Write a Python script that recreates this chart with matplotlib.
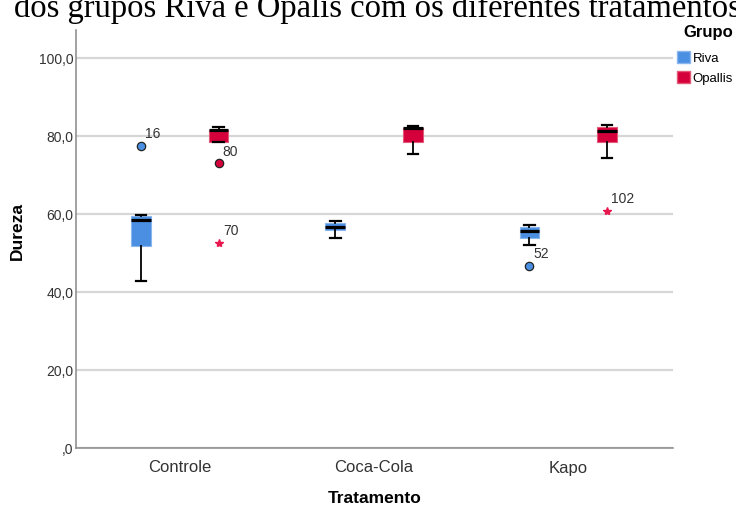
import matplotlib.pyplot as plt
from matplotlib.patches import Patch

# dureza por tratamento e grupo (resumo dos boxplots)
tratamentos = ['Controle', 'Coca-Cola', 'Kapo']
grupos = ['Riva', 'Opallis']

riva_whislo = [42.8, 53.9, 52.0]
riva_q1 = [51.8, 56.0, 53.8]
riva_med = [58.5, 56.8, 55.7]
riva_q3 = [59.5, 57.6, 56.6]
riva_whishi = [59.8, 58.3, 57.2]

opallis_whislo = [78.4, 75.3, 74.5]
opallis_q1 = [78.4, 78.5, 78.5]
opallis_med = [81.5, 82.0, 81.3]
opallis_q3 = [81.6, 82.1, 82.2]
opallis_whishi = [82.4, 82.6, 82.8]

# casos atipicos (circulo) e extremos (estrela)
out_trat = [0, 0, 0, 2, 2]
out_grupo = ['Riva', 'Opallis', 'Opallis', 'Riva', 'Opallis']
out_valor = [77.5, 73.0, 52.5, 46.7, 60.8]
out_caso = ['16', '80', '70', '52', '102']
out_extremo = [False, False, True, False, True]

cores = {'Riva': '#4a8fe2', 'Opallis': '#d5003b'}
bordas = {'Riva': '#8ab6ee', 'Opallis': '#e25a78'}
desloc = {'Riva': -0.2, 'Opallis': 0.2}

fig = plt.figure(figsize=(7.36, 5.08), dpi=100)
ax = fig.add_axes([76 / 736, 1 - 448 / 508, 597 / 736, 418 / 508])

series = {
    'Riva': (riva_whislo, riva_q1, riva_med, riva_q3, riva_whishi),
    'Opallis': (opallis_whislo, opallis_q1, opallis_med, opallis_q3, opallis_whishi),
}

for g in grupos:
    lo, q1, med, q3, hi = series[g]
    stats = []
    for i in range(len(tratamentos)):
        stats.append({'whislo': lo[i], 'q1': q1[i], 'med': med[i],
                      'q3': q3[i], 'whishi': hi[i], 'fliers': []})
    pos = [i + desloc[g] for i in range(len(tratamentos))]
    ax.bxp(stats, positions=pos, widths=0.1, capwidths=0.055,
           patch_artist=True, showfliers=False, manage_ticks=False,
           boxprops=dict(facecolor=cores[g], edgecolor=bordas[g], linewidth=0.8),
           medianprops=dict(color='black', linewidth=2.3, solid_capstyle='butt'),
           whiskerprops=dict(color='black', linewidth=1.3),
           capprops=dict(color='black', linewidth=1.6), zorder=3)

for t, g, v, caso, ext in zip(out_trat, out_grupo, out_valor, out_caso, out_extremo):
    x = t + desloc[g]
    if ext:
        ax.plot(x, v, marker='*', color='#e8174d', markersize=6, zorder=4)
    else:
        ax.plot(x, v, marker='o', markerfacecolor=cores[g], markeredgecolor='#222222',
                markeredgewidth=0.9, markersize=6, zorder=4)
    ax.annotate(caso, (x, v), xytext=(3, 8.5), textcoords='offset points',
                ha='left', va='center', fontsize=10, color='#333333',
                family='Liberation Sans')

ax.set_xlim(-0.535, 2.54)
ax.set_ylim(0, 107.2)
ax.set_xticks(range(len(tratamentos)))
ax.set_xticklabels(tratamentos, family='Liberation Sans', fontsize=12, color='#333333')
ax.set_yticks([0, 20, 40, 60, 80, 100])
ax.set_yticklabels([',0', '20,0', '40,0', '60,0', '80,0', '100,0'],
                   family='Liberation Sans', fontsize=10, color='#333333')
ax.tick_params(axis='both', length=0)
ax.tick_params(axis='x', pad=9)
ax.tick_params(axis='y', pad=2)

ax.yaxis.grid(True, color='#d6d6d6', linewidth=1.6)
ax.set_axisbelow(True)
for s in ['top', 'right']:
    ax.spines[s].set_visible(False)
for s in ['left', 'bottom']:
    ax.spines[s].set_color('#888888')
    ax.spines[s].set_linewidth(1.1)

ax.set_ylabel('Dureza', family='Liberation Sans', fontsize=12.5, fontweight='bold')
ax.yaxis.set_label_coords(-0.085, 0.52)
ax.set_xlabel('Tratamento', family='Liberation Sans', fontsize=12.5, fontweight='bold')
ax.xaxis.set_label_coords(0.5, -0.103)

handles = [Patch(facecolor=cores[g], edgecolor=bordas[g], label=g) for g in grupos]
leg = fig.legend(handles=handles, title='Grupo', loc='upper left',
                 bbox_to_anchor=(677 / 736, 1 - 25 / 508), frameon=False,
                 handlelength=1.0, handleheight=1.0, handletextpad=0.2,
                 labelspacing=0.5, borderaxespad=0, borderpad=0,
                 prop={'family': 'Liberation Sans', 'size': 9.5})
leg.get_title().set_fontfamily('Liberation Sans')
leg.get_title().set_fontsize(12)
leg.get_title().set_fontweight('bold')
leg._legend_box.align = 'right'
leg._legend_box.sep = 8

# linha de texto cortada no topo
fig.text(14 / 736, 1 - 17 / 508, 'dos grupos Riva e Opalis com os diferentes tratamentos',
         family='Liberation Serif', fontsize=23.5, va='baseline', ha='left')

fig.savefig('out.png', dpi=100)
